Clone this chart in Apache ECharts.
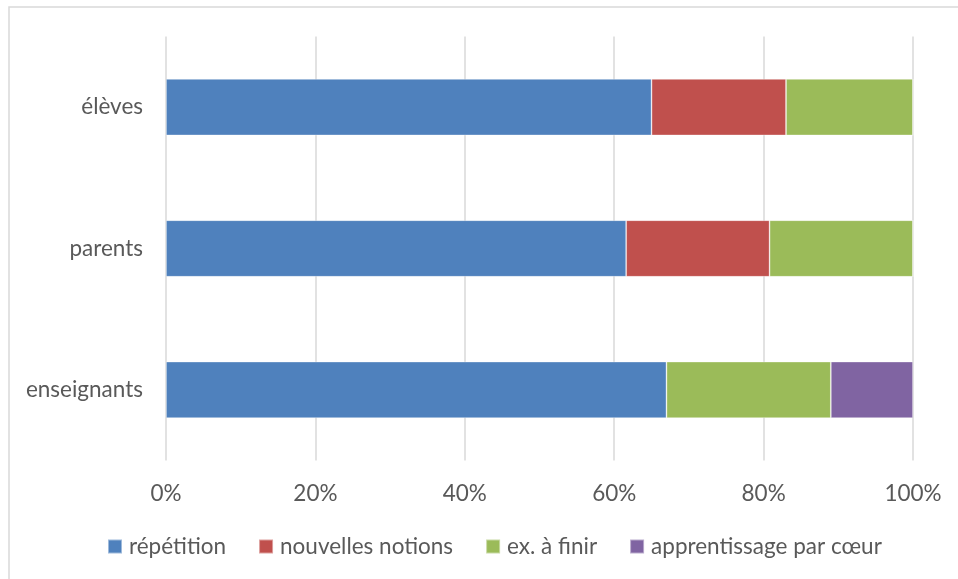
<!DOCTYPE html>
<html>
<head>
<meta charset="utf-8">
<script src="https://cdn.jsdelivr.net/npm/echarts@6/dist/echarts.min.js"></script>
<style>
  html, body { margin: 0; padding: 0; background: #fff; }
  #chart { width: 958px; height: 579px; }
</style>
</head>
<body>
<div id="chart"></div>
<script>
// Groups (bottom to top on the category axis)
const categories = ['enseignants', 'parents', 'élèves'];

// Share of answers per group, in percent
const seriesNames = ['répétition', 'nouvelles notions', 'ex. à finir', 'apprentissage par cœur'];
const repetition     = [67.0, 61.6, 65.0];
const nouvNotions    = [0,    19.2, 18.0];
const exAFinir       = [22.0, 19.2, 17.0];
const parCoeur       = [11.0, 0,    0];

const xTicks = [0, 20, 40, 60, 80, 100];

const colors = ['#4F81BD', '#C0504D', '#9BBB59', '#8064A2'];
const values = [repetition, nouvNotions, exAFinir, parCoeur];
const textColor = '#595959';
const fontFamily = 'Lato, "Open Sans", sans-serif';
const fontSize = 22.5;

const chart = echarts.init(document.getElementById('chart'), null, { renderer: 'canvas' });

chart.setOption({
  backgroundColor: '#fff',
  animation: false,
  color: colors,
  textStyle: { fontFamily: fontFamily, color: textColor },
  graphic: [{
    type: 'rect',
    shape: { x: 9, y: 7, width: 1000, height: 700 },
    style: { fill: 'none', stroke: '#d9d9d9', lineWidth: 1.5 },
    silent: true,
    z: -1
  }],
  grid: { left: 166, right: 45, top: 36.5, bottom: 118.5, containLabel: false },
  legend: {
    top: 530,
    left: 102,
    itemWidth: 14,
    itemHeight: 14,
    itemGap: 32,
    icon: 'rect',
    textStyle: { fontSize: fontSize, color: textColor, fontFamily: fontFamily, padding: [0, 0, 0, 2] },
    data: seriesNames
  },
  xAxis: {
    type: 'value',
    min: xTicks[0],
    max: xTicks[xTicks.length - 1],
    interval: 20,
    axisLine: { show: false },
    axisTick: { show: false },
    splitLine: { show: true, lineStyle: { color: '#d9d9d9', width: 1.5 } },
    axisLabel: {
      formatter: v => v + '%',
      fontSize: fontSize,
      color: textColor,
      margin: 22
    }
  },
  yAxis: {
    type: 'category',
    data: categories,
    axisLine: { show: false },
    axisTick: { show: false },
    axisLabel: { fontSize: fontSize, color: textColor, margin: 23 }
  },
  series: seriesNames.map((name, i) => ({
    name: name,
    type: 'bar',
    stack: 'total',
    barCategoryGap: '60%',
    itemStyle: { color: colors[i], borderColor: 'rgba(255,255,255,0.45)', borderWidth: 0.8 },
    data: values[i]
  }))
});
</script>
</body>
</html>
